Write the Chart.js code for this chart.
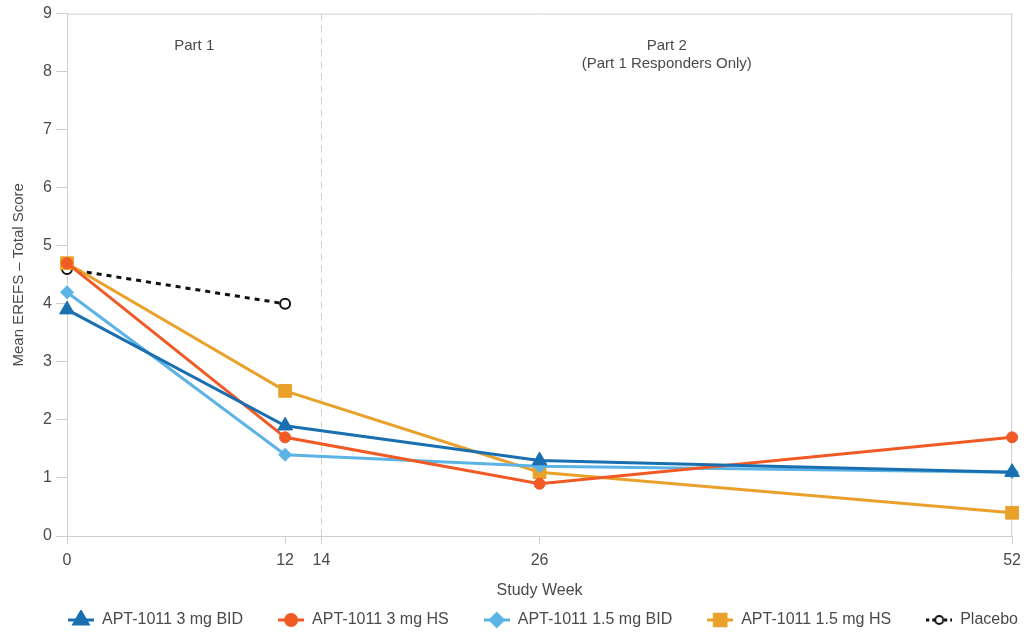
<!DOCTYPE html>
<html>
<head>
<meta charset="utf-8">
<script src="https://cdn.jsdelivr.net/npm/chart.js@4.4.0/dist/chart.umd.min.js"></script>
<style>
    html, body { margin: 0; padding: 0; background: #fff; }
    #wrap { width: 1028px; height: 632px; }
</style>
</head>
<body>
<div id="wrap"><canvas id="erefsChart"></canvas></div>
<script>
// ---------- datos ----------
const weeks        = [0, 12, 26, 52];
const placeboWeeks = [0, 12];
const xTickValues  = [0, 12, 14, 26, 52];
const partSplit    = 14;

const bid3mg   = [3.9, 1.9, 1.3, 1.1];
const hs3mg    = [4.7, 1.7, 0.9, 1.7];
const bid15mg  = [4.2, 1.4, 1.2, 1.1];
const hs15mg   = [4.7, 2.5, 1.1, 0.4];
const placebo  = [4.6, 4.0];

const seriesNames = ['APT-1011 3 mg BID', 'APT-1011 3 mg HS', 'APT-1011 1.5 mg BID', 'APT-1011 1.5 mg HS', 'Placebo'];

const FONT = '"Liberation Sans", Arial, sans-serif';
const TEXT = '#4a4a4a';
const AXIS = '#cfcfcf';

const toPoints = (xs, ys) => xs.map((x, i) => ({ x: x, y: ys[i] }));

// icono de leyenda: linea + marcador
function legendIcon(color, style, radius, dashed, fill) {
    const c = document.createElement('canvas');
    c.width = 26; c.height = 20;
    const g = c.getContext('2d');
    g.strokeStyle = color;
    g.lineWidth = 3;
    if (dashed) g.setLineDash([3, 3]);
    g.beginPath(); g.moveTo(0, 10); g.lineTo(26, 10); g.stroke();
    g.setLineDash([]);
    g.fillStyle = fill || color;
    g.lineWidth = 2;
    Chart.helpers.drawPoint(g, { pointStyle: style, radius: radius, rotation: 0, borderWidth: 2 }, 13, 10);
    return c;
}

const datasets = [
    { label: seriesNames[0], data: toPoints(weeks, bid3mg), color: '#1a6fb0', style: 'triangle', radius: 8.5, icon: 9 },
    { label: seriesNames[1], data: toPoints(weeks, hs3mg), color: '#f15a24', style: 'circle', radius: 5.5, icon: 6 },
    { label: seriesNames[2], data: toPoints(weeks, bid15mg), color: '#5cb3e6', style: 'rectRot', radius: 6.5, icon: 7 },
    { label: seriesNames[3], data: toPoints(weeks, hs15mg), color: '#e9a12b', style: 'rect', radius: 9, icon: 9 }
].map(d => ({
    label: d.label,
    data: d.data,
    borderColor: d.color,
    backgroundColor: d.color,
    borderWidth: 3,
    clip: false,
    pointStyle: d.style,
    pointRadius: d.radius,
    pointBorderWidth: 1,
    pointHoverRadius: d.radius,
    legendIcon: legendIcon(d.color, d.style, d.icon, false)
}));

datasets.push({
    label: seriesNames[4],
    data: toPoints(placeboWeeks, placebo),
    borderColor: '#111',
    backgroundColor: '#fff',
    borderWidth: 3,
    borderDash: [5, 5],
    clip: false,
    pointStyle: 'circle',
    pointRadius: 5,
    pointBorderWidth: 2,
    pointBorderColor: '#111',
    pointBackgroundColor: '#fff',
    legendIcon: legendIcon('#111', 'circle', 4, true, '#fff')
});

// leyenda: alto fijo en el layout, luego se amplia su caja hacia arriba
const legendPlace = {
    id: 'legendPlace',
    beforeInit(chart) {
        const fit = chart.legend.fit;
        chart.legend.fit = function () {
            fit.bind(chart.legend)();
            this.height = 24;
        };
    },
    afterLayout(chart) {
        const lg = chart.legend;
        lg.top = chart.height - 55;
        lg.bottom = chart.height;
        lg.left += 29; lg.right += 29;
    }
};

// marco, linea discontinua y textos "Part 1 / Part 2"
const partsPlugin = {
    id: 'parts',
    beforeDatasetsDraw(chart) {
        const { ctx, chartArea: a, scales: { x, y } } = chart;
        ctx.save();
        ctx.strokeStyle = AXIS;
        ctx.lineWidth = 1;
        ctx.beginPath();
        ctx.moveTo(a.left, a.top + 0.5); ctx.lineTo(a.right, a.top + 0.5);
        ctx.moveTo(a.right - 0.5, a.top); ctx.lineTo(a.right - 0.5, a.bottom);
        ctx.stroke();

        const px = Math.round(x.getPixelForValue(partSplit)) + 0.5;
        ctx.setLineDash([7, 5]);
        ctx.beginPath(); ctx.moveTo(px, a.top); ctx.lineTo(px, a.bottom); ctx.stroke();
        ctx.setLineDash([]);

        ctx.fillStyle = TEXT;
        ctx.font = '15px ' + FONT;
        ctx.textAlign = 'center';
        ctx.textBaseline = 'middle';
        const ty = y.getPixelForValue(8.45);
        ctx.fillText('Part 1', x.getPixelForValue(partSplit / 2), ty);
        const cx2 = x.getPixelForValue((partSplit + 52) / 2);
        ctx.fillText('Part 2', cx2, ty);
        ctx.fillText('(Part 1 Responders Only)', cx2, ty + 18);
        ctx.restore();
    }
};

new Chart(document.getElementById('erefsChart'), {
    type: 'line',
    data: { datasets: datasets },
    options: {
        responsive: true,
        maintainAspectRatio: false,
        animation: false,
        layout: { padding: { top: 13, right: 0, left: 0, bottom: 0 } },
        plugins: {
            tooltip: { enabled: false },
            legend: {
                position: 'bottom',
                labels: {
                    usePointStyle: true,
                    pointStyleWidth: 26,
                    padding: 35,
                    color: TEXT,
                    font: { family: FONT, size: 16 },
                    generateLabels(chart) {
                        return chart.data.datasets.map((ds, i) => ({
                            text: ds.label,
                            pointStyle: ds.legendIcon,
                            fillStyle: ds.borderColor,
                            strokeStyle: ds.borderColor,
                            lineWidth: 0,
                            fontColor: TEXT,
                            hidden: false,
                            datasetIndex: i
                        }));
                    }
                }
            }
        },
        scales: {
            x: {
                type: 'linear',
                min: 0,
                max: 52,
                afterBuildTicks(scale) {
                    scale.ticks = xTickValues.map(v => ({ value: v }));
                },
                afterFit(scale) { scale.height = 72; },
                grid: { drawOnChartArea: false, drawTicks: true, tickLength: 8, color: AXIS },
                border: { color: AXIS },
                ticks: { color: TEXT, font: { family: FONT, size: 16 }, padding: 7, maxRotation: 0 },
                title: { display: true, text: 'Study Week', color: TEXT, font: { family: FONT, size: 16 }, padding: { top: 4, bottom: 8 } }
            },
            y: {
                min: 0,
                max: 9,
                afterFit(scale) { scale.width = 67; },
                grid: { drawOnChartArea: false, drawTicks: true, tickLength: 11, color: AXIS },
                border: { color: AXIS },
                ticks: { stepSize: 1, color: TEXT, font: { family: FONT, size: 16 }, padding: 4 },
                title: { display: true, text: 'Mean EREFS \u2013 Total Score', color: TEXT, font: { family: FONT, size: 15 }, padding: 10 }
            }
        }
    },
    plugins: [partsPlugin, legendPlace]
});
</script>
</body>
</html>
